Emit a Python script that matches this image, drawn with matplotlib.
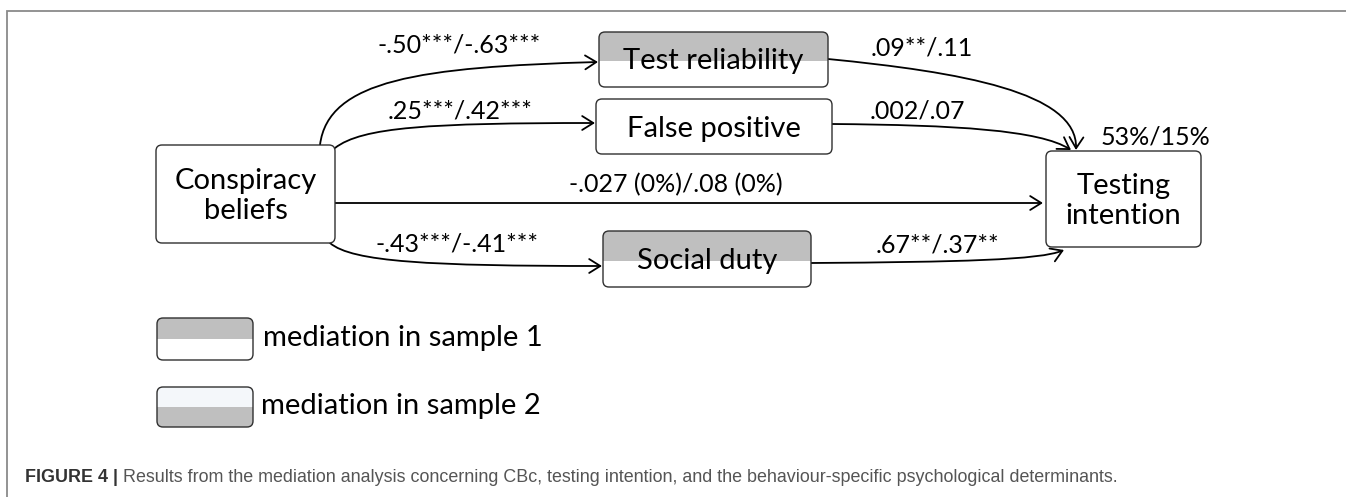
import matplotlib
matplotlib.use("Agg")
import matplotlib.pyplot as plt
from matplotlib.patches import FancyBboxPatch, FancyArrowPatch, Rectangle
from matplotlib.path import Path

# node names and which sample shows mediation (shading)
nodes = ["Conspiracy\nbeliefs", "Test reliability", "False positive", "Social duty", "Testing\nintention"]
shade = [None, "top", None, "top", None]

# path coefficients
edge_labels = ["-.50***/-.63***", ".25***/.42***", "-.027 (0%)/.08 (0%)", "-.43***/-.41***",
               ".09**/.11", ".002/.07", ".67**/.37**"]
r2_label = "53%/15%"
legend_labels = ["mediation in sample 1", "mediation in sample 2"]
caption_bold = "FIGURE 4 |"
caption_text = "Results from the mediation analysis concerning CBc, testing intention, and the behaviour-specific psychological determinants."

W, H = 1346, 497
fig = plt.figure(figsize=(W / 100, H / 100), dpi=100)
ax = fig.add_axes([0, 0, 1, 1])
ax.set_xlim(0, W)
ax.set_ylim(H, 0)
ax.axis("off")

GRAY = "#bfbfbf"
EDGE = "#303030"
FONT = "Lato"

# box geometry (x0, y0, x1, y1) in pixels
boxes = [(156, 145, 335, 243), (599, 32, 828, 87), (596, 99, 832, 154),
         (603, 231, 811, 287), (1046, 151, 1201, 247)]


def draw_box(x0, y0, x1, y1, fill_top=None, fill_bottom=None, split=0.53, r=6):
    p = FancyBboxPatch((x0, y0), x1 - x0, y1 - y0, boxstyle=f"round,pad=0,rounding_size={r}",
                       fc="white", ec="none", zorder=2)
    ax.add_patch(p)
    ys = y0 + (y1 - y0) * split
    if fill_top:
        rt = Rectangle((x0, y0), x1 - x0, ys - y0, fc=fill_top, ec="none", zorder=2.1)
        ax.add_patch(rt)
        rt.set_clip_path(p)
    if fill_bottom:
        rb = Rectangle((x0, ys), x1 - x0, y1 - ys, fc=fill_bottom, ec="none", zorder=2.1)
        ax.add_patch(rb)
        rb.set_clip_path(p)
    ax.add_patch(FancyBboxPatch((x0, y0), x1 - x0, y1 - y0, boxstyle=f"round,pad=0,rounding_size={r}",
                                fc="none", ec=EDGE, lw=1.0, zorder=2.2))


for (x0, y0, x1, y1), name, sh in zip(boxes, nodes, shade):
    draw_box(x0, y0, x1, y1, fill_top=GRAY if sh == "top" else None)
    ax.text((x0 + x1) / 2, (y0 + y1) / 2 + 2, name, ha="center", va="center", fontsize=21,
            family=FONT, color="black", linespacing=1.15, zorder=3)


def arrow(pts):
    codes = [Path.MOVETO] + [Path.CURVE4] * (len(pts) - 1) if len(pts) == 4 else [Path.MOVETO, Path.LINETO]
    a = FancyArrowPatch(path=Path(pts, codes), arrowstyle="->,head_length=8,head_width=5",
                        mutation_scale=1, lw=1.3, color="black", zorder=1.5)
    ax.add_patch(a)


arrow([(320, 145), (328, 80), (420, 67), (598, 62)])
arrow([(335, 148), (362, 127), (430, 123), (595, 123)])
arrow([(335, 203), (1043, 203)])
arrow([(330, 243), (352, 262), (430, 266), (602, 266)])
arrow([(828, 59), (960, 72), (1078, 92), (1076, 150)])
arrow([(832, 124), (955, 125), (1040, 130), (1071, 150)])
arrow([(811, 263), (960, 262), (1040, 260), (1064, 250)])

# coefficient labels
label_pos = [(459, 45), (460, 111), (676, 185), (457, 244), (922, 48), (917, 111), (937, 245)]
for (x, y), s in zip(label_pos, edge_labels):
    ax.text(x, y, s, ha="center", va="center", fontsize=18, family=FONT, zorder=3)
ax.text(1155, 137, r2_label, ha="center", va="center", fontsize=18, family=FONT, zorder=3)

# legend
draw_box(157, 318, 253, 360, fill_top=GRAY, split=0.5)
draw_box(157, 387, 253, 427, fill_top="#f4f7fa", fill_bottom=GRAY, split=0.5)
ax.text(263, 338, legend_labels[0], ha="left", va="center", fontsize=21, family=FONT)
ax.text(261, 406, legend_labels[1], ha="left", va="center", fontsize=21, family=FONT)

# frame
ax.plot([7, 7, W], [H, 11, 11], color="#8a8a8a", lw=1.3, solid_joinstyle="miter")

# caption
cap_font = ["Liberation Sans", "DejaVu Sans"]
t1 = ax.text(25, 478, caption_bold, ha="left", va="center", fontsize=12.9, family=cap_font,
             weight="bold", color="#333333")
fig.canvas.draw()
bb = t1.get_window_extent()
x_next = ax.transData.inverted().transform((bb.x1, bb.y0))[0] + 5
ax.text(x_next, 478, caption_text, ha="left", va="center", fontsize=12.9, family=cap_font,
        color="#555555")

fig.savefig("out.png", dpi=100)
